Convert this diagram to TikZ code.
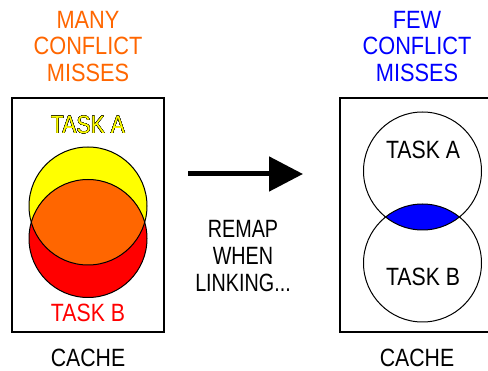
\documentclass[tikz,border=0pt]{standalone}
\usepackage{fontspec}
\setmainfont{Liberation Sans}
\newfontfamily\fTitle[FakeStretch=0.87]{Liberation Sans}
\newfontfamily\fRemap[FakeStretch=0.79]{Liberation Sans}
\newfontfamily\fTask[FakeStretch=0.85]{Liberation Sans}
\usepackage{contour}
\contourlength{0.3pt}
\usetikzlibrary{arrows.meta}
\definecolor{morange}{RGB}{255,102,0}
\definecolor{tyellow}{RGB}{255,255,0}
\begin{document}
\begin{tikzpicture}[x=1pt,y=-1pt,
  lbl/.style={align=center,inner sep=0pt},
  ttl/.style={lbl,font=\fTitle\fontsize{25}{26.2}\selectfont},
  rmp/.style={lbl,font=\fRemap\fontsize{25}{26.7}\selectfont},
  tsk/.style={lbl,font=\fTask\fontsize{25}{26.7}\selectfont},
  cachebox/.style={draw=black,line width=1.5pt,inner sep=0pt},
  setc/.style={circle,draw=black,line width=1pt,minimum size=118pt,inner sep=0pt}]
\useasboundingbox (0,0) rectangle (488,371);
% left box
\node[cachebox,minimum width=152pt,minimum height=234pt] (lbox) at (88,215) {};
\fill[tyellow] (88,206) circle (59);
\fill[red] (88,238.5) circle (59);
\begin{scope}
  \clip (88,206) circle (59);
  \fill[morange] (88,238.5) circle (59);
\end{scope}
\node[setc] (la) at (88,206) {};
\node[setc] (lb) at (88,238.5) {};
\node[ttl,text=morange] (t1) at (88,46.5) {MANY\\CONFLICT\\MISSES};
\node[tsk] (ta1) at (88,125) {\contour{black}{\textcolor{tyellow}{TASK A}}};
\node[tsk,text=red] (tb1) at (88,313) {TASK B};
\node[tsk] (c1) at (88,358) {CACHE};
% right box
\node[cachebox,minimum width=156pt,minimum height=234pt] (rbox) at (418,215) {};
\begin{scope}
  \clip (422.5,171) circle (59);
  \fill[blue] (422.5,263) circle (59);
\end{scope}
\node[setc] (ra) at (422.5,171) {};
\node[setc] (rb) at (422.5,263) {};
\node[tsk] (ta2) at (423,150) {TASK A};
\node[tsk] (tb2) at (423,277) {TASK B};
\node[ttl,text=blue] (t2) at (417,46.5) {FEW\\CONFLICT\\MISSES};
\node[tsk] (c2) at (417,358) {CACHE};
% arrow
\coordinate (as) at (188,174);
\coordinate (ae) at (303,174);
\draw[line width=5pt,-{Triangle[length=34pt,width=34pt]}] (as) -- (ae);
\node[rmp] (rm) at (243,256) {REMAP\\WHEN\\LINKING...};
\end{tikzpicture}
\end{document}
